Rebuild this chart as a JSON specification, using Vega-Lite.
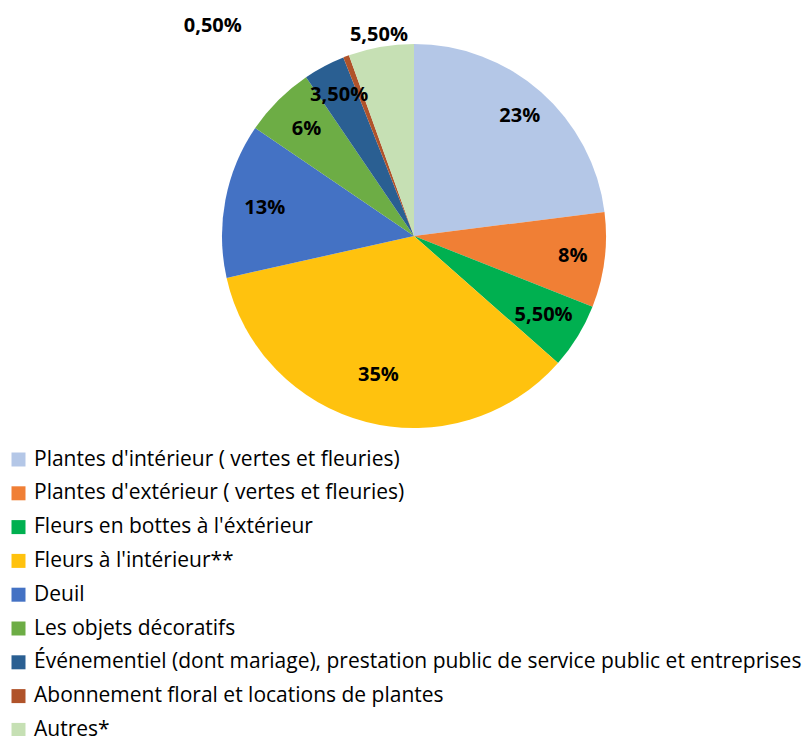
{
  "$schema": "https://vega.github.io/schema/vega-lite/v6.json",
  "width": 828,
  "height": 472,
  "autosize": "none",
  "padding": {"left": 0, "top": 0, "right": 0, "bottom": 264},
  "background": "white",
  "config": {"view": {"stroke": null}, "font": "Open Sans"},
  "data": {
    "values": [
      {"idx": 1, "cat": "Plantes d'intérieur ( vertes et fleuries)", "value": 23, "label": "23%"},
      {"idx": 2, "cat": "Plantes d'extérieur ( vertes et fleuries)", "value": 8, "label": "8%"},
      {"idx": 3, "cat": "Fleurs en bottes à l'éxtérieur", "value": 5.5, "label": "5,50%"},
      {"idx": 4, "cat": "Fleurs à l'intérieur**", "value": 35, "label": "35%"},
      {"idx": 5, "cat": "Deuil", "value": 13, "label": "13%"},
      {"idx": 6, "cat": "Les objets décoratifs", "value": 6, "label": "6%"},
      {"idx": 7, "cat": "Événementiel (dont mariage), prestation public de service public et entreprises", "value": 3.5, "label": "3,50%"},
      {"idx": 8, "cat": "Abonnement floral et locations de plantes", "value": 0.5, "label": "0,50%"},
      {"idx": 9, "cat": "Autres*", "value": 5.5, "label": "5,50%"}
    ]
  },
  "encoding": {
    "theta": {"field": "value", "type": "quantitative", "stack": true},
    "order": {"field": "idx", "type": "quantitative"}
  },
  "layer": [
    {
      "mark": {"type": "arc", "outerRadius": 192},
      "encoding": {
        "color": {
          "field": "cat",
          "type": "nominal",
          "sort": null,
          "scale": {
            "domain": [
              "Plantes d'intérieur ( vertes et fleuries)",
              "Plantes d'extérieur ( vertes et fleuries)",
              "Fleurs en bottes à l'éxtérieur",
              "Fleurs à l'intérieur**",
              "Deuil",
              "Les objets décoratifs",
              "Événementiel (dont mariage), prestation public de service public et entreprises",
              "Abonnement floral et locations de plantes",
              "Autres*"
            ],
            "range": ["#B4C7E7", "#F07F35", "#00B050", "#FFC20E", "#4472C4", "#6DAD45", "#2A5F92", "#B0532A", "#C6E0B4"]
          },
          "legend": {
            "title": null,
            "orient": "none",
            "legendX": 8,
            "legendY": 449,
            "direction": "vertical",
            "symbolType": "square",
            "symbolSize": 196,
            "symbolStrokeWidth": 0,
            "labelFont": "Open Sans",
            "labelFontSize": 21,
            "labelColor": "#000000",
            "labelOffset": 5,
            "rowPadding": 11.8,
            "labelLimit": 800
          }
        }
      }
    },
    {
      "mark": {"type": "text", "radius": 160, "font": "Open Sans", "fontSize": 20, "fontWeight": "bold", "color": "#000000", "align": "center", "baseline": "middle"},
      "encoding": {"text": {"condition": {"test": "datum.idx == 1 || datum.idx == 2 || datum.idx == 7", "field": "label"}, "value": ""}}
    },
    {
      "mark": {"type": "text", "radius": 152, "font": "Open Sans", "fontSize": 20, "fontWeight": "bold", "color": "#000000", "align": "center", "baseline": "middle"},
      "encoding": {"text": {"condition": {"test": "datum.idx == 3 || datum.idx == 5 || datum.idx == 6", "field": "label"}, "value": ""}}
    },
    {
      "mark": {"type": "text", "radius": 143, "font": "Open Sans", "fontSize": 20, "fontWeight": "bold", "color": "#000000", "align": "center", "baseline": "middle"},
      "encoding": {"text": {"condition": {"test": "datum.idx == 4", "field": "label"}, "value": ""}}
    },
    {
      "mark": {"type": "text", "radius": 204, "font": "Open Sans", "fontSize": 20, "fontWeight": "bold", "color": "#000000", "align": "center", "baseline": "middle"},
      "encoding": {"text": {"condition": {"test": "datum.idx == 9", "field": "label"}, "value": ""}}
    },
    {
      "mark": {"type": "text", "radius": 210, "dx": -127, "dy": -14, "font": "Open Sans", "fontSize": 20, "fontWeight": "bold", "color": "#000000", "align": "center", "baseline": "middle"},
      "encoding": {"text": {"condition": {"test": "datum.idx == 8", "field": "label"}, "value": ""}}
    }
  ]
}
